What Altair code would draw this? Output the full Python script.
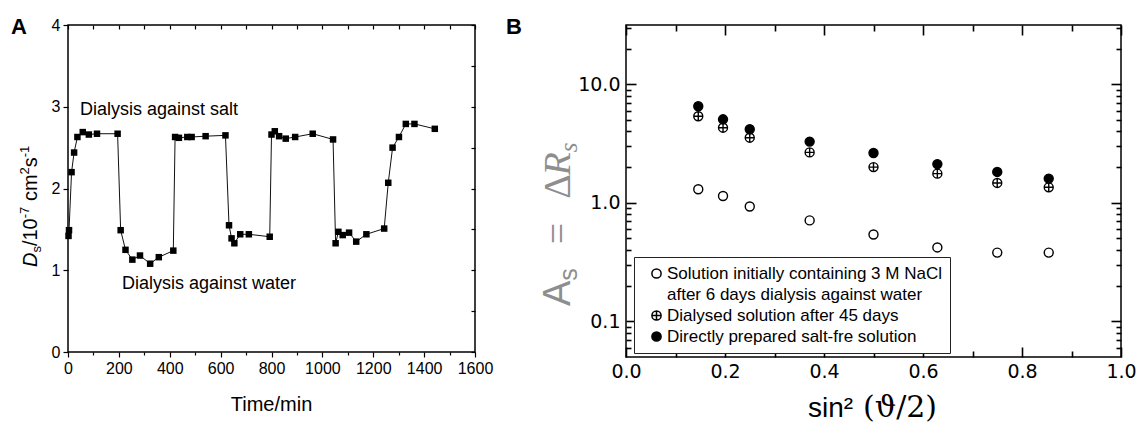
import altair as alt
import pandas as pd

# ---------------- Panel A data ----------------
time_min = [2, 4, 14, 24, 37, 58, 82, 114, 195,
            207, 226, 253, 283, 323, 357, 414,
            421, 436, 469, 486, 541, 619,
            633, 643, 654, 677, 711, 793,
            800, 813, 830, 856, 893, 962, 1042,
            1052, 1063, 1080, 1105, 1133, 1173, 1243,
            1259, 1276, 1301, 1328, 1362, 1442]
ds_values = [1.42, 1.49, 2.20, 2.44, 2.63, 2.69, 2.66, 2.67, 2.67,
             1.49, 1.25, 1.13, 1.18, 1.08, 1.16, 1.24,
             2.63, 2.62, 2.63, 2.63, 2.64, 2.65,
             1.55, 1.39, 1.33, 1.44, 1.44, 1.41,
             2.66, 2.70, 2.64, 2.61, 2.63, 2.67, 2.60,
             1.33, 1.47, 1.43, 1.46, 1.35, 1.44, 1.51,
             2.07, 2.50, 2.63, 2.79, 2.79, 2.73]
annot_text = ["Dialysis against salt", "Dialysis against water"]
annot_t = [47, 212]
annot_d = [2.96, 0.83]

x_ticks_a = list(range(0, 1601, 100))
y_ticks_a = [i * 0.5 for i in range(9)]

# ---------------- Panel B data ----------------
sin2_theta = [0.146, 0.196, 0.25, 0.371, 0.5, 0.629, 0.75, 0.854]
as_open = [1.30, 1.14, 0.93, 0.71, 0.54, 0.42, 0.38, 0.38]
as_crossed = [5.37, 4.30, 3.54, 2.66, 2.00, 1.76, 1.47, 1.35]
as_filled = [6.52, 5.06, 4.17, 3.28, 2.63, 2.12, 1.82, 1.60]
series_names = [
    "Solution initially containing 3 M NaCl",
    "after 6 days dialysis against water",
    "Dialysed solution after 45 days",
    "Directly prepared salt-fre solution",
]
x_ticks_b = [round(i * 0.1, 1) for i in range(11)]
y_ticks_b = ([round(0.01 * k, 2) for k in range(6, 10)] +
             [round(0.1 * k, 1) for k in range(1, 10)] +
             [float(k) for k in range(1, 10)] + [10.0, 20.0, 30.0])
y_labels_b = [0.1, 1.0, 10.0]

FONT = "Liberation Sans"
WA, HA = 407, 327
WB, HB = 495, 332
GAP = 151
CROSSED = "M-1,0A1,1,0,1,1,1,0A1,1,0,1,1,-1,0ZM-1,0L1,0M0,-1L0,1"

one = pd.DataFrame({"k": [0]})


def txt(text, x, y, size, font=FONT, style="normal", weight="normal",
        angle=0, align="left", baseline="alphabetic", color="black"):
    return alt.Chart(one).mark_text(
        text=text, font=font, fontSize=size, fontStyle=style, fontWeight=weight,
        angle=angle, align=align, baseline=baseline, color=color
    ).encode(x=alt.value(x), y=alt.value(y))


def vertical_title(pieces, y0, x_base, color="black"):
    """pieces: (text, size, font, style, shift, advance, gap_before)"""
    layers = []
    y = y0
    for text, size, font, style, shift, adv, gap in pieces:
        y -= gap
        layers.append(txt(text, x_base + shift, y, size, font=font, style=style,
                          angle=270, align="left", color=color))
        y -= adv
    return layers


# ---------------- Panel A ----------------
dfA = pd.DataFrame({"t": time_min, "D": ds_values, "order": list(range(len(time_min)))})
dfAnn = pd.DataFrame({"label": annot_text, "t": annot_t, "D": annot_d})
sxA = alt.Scale(domain=[0, 1600], nice=False, zero=False)
syA = alt.Scale(domain=[0, 4], nice=False, zero=False)

axA_bottom = alt.Axis(orient="bottom", values=x_ticks_a, format="d",
                      labelExpr="datum.value % 200 === 0 ? datum.label : ''",
                      tickSize={"condition": {"test": "datum.value % 200 === 0", "value": 5}, "value": 3},
                      labelFont=FONT, labelFontSize=16, labelPadding=3, labelFlush=False,
                      labelOverlap=False, title=None, domain=False, grid=False,
                      tickColor="black", tickWidth=1.2, labelColor="black")
axA_left = alt.Axis(orient="left", values=y_ticks_a, format="d",
                    labelExpr="datum.value % 1 === 0 ? datum.label : ''",
                    tickSize={"condition": {"test": "datum.value % 1 === 0", "value": 5}, "value": 3},
                    labelFont=FONT, labelFontSize=16, labelPadding=3, labelFlush=False,
                    labelOverlap=False, title=None, domain=False, grid=False,
                    tickColor="black", tickWidth=1.2, labelColor="black")
axA_top = alt.Axis(orient="bottom", offset=-HA, values=x_ticks_a, labels=False, tickSize=4,
                   title=None, domain=False, grid=False, tickColor="black", tickWidth=1.2)
axA_right = alt.Axis(orient="left", offset=-WA, values=y_ticks_a, labels=False, tickSize=4,
                     title=None, domain=False, grid=False, tickColor="black", tickWidth=1.2)

lineA = alt.Chart(dfA).mark_line(color="#111111", strokeWidth=1).encode(
    x=alt.X("t:Q", scale=sxA, axis=axA_bottom),
    y=alt.Y("D:Q", scale=syA, axis=axA_left),
    order="order:Q")
ptsA = alt.Chart(dfA).mark_point(shape="square", filled=True, size=42, color="black", opacity=1).encode(
    x=alt.X("t:Q", scale=sxA, axis=None),
    y=alt.Y("D:Q", scale=syA, axis=None))
invA = alt.Chart(dfA).mark_point(opacity=0).encode(
    x=alt.X("t:Q", scale=sxA, axis=axA_top),
    y=alt.Y("D:Q", scale=syA, axis=axA_right))
annA = alt.Chart(dfAnn).mark_text(font=FONT, fontSize=18, align="left", baseline="middle",
                                  color="black").encode(
    x=alt.X("t:Q", scale=sxA, axis=None),
    y=alt.Y("D:Q", scale=syA, axis=None),
    text="label:N")

ytitleA = vertical_title([
    ("D", 20, FONT, "italic", 0, 14.4, 0),
    ("s", 13, FONT, "normal", 4, 6.5, 0),
    ("/10", 20, FONT, "normal", 0, 27.8, 0),
    ("-7", 13, FONT, "normal", -8, 11.6, 0),
    ("cm", 20, FONT, "normal", 0, 26.6, 5.6),
    ("2", 13, FONT, "normal", -8, 7.2, 0),
    ("s", 20, FONT, "normal", 0, 10.0, 0),
    ("-1", 13, FONT, "normal", -8, 11.6, 0),
], y0=242, x_base=-31)

panelA = alt.layer(
    lineA, ptsA, invA, annA,
    txt("Time/min", WA / 2, 386, 20, align="center"),
    txt("A", -57, 9, 22, weight="bold"),
    *ytitleA
).resolve_axis(x="independent", y="independent").properties(width=WA, height=HA)

# ---------------- Panel B ----------------
rows = []
for name, vals in [(series_names[0], as_open), (series_names[2], as_crossed), (series_names[3], as_filled)]:
    for xv, v in zip(sin2_theta, vals):
        rows.append({"series": name, "x": xv, "v": v})
dfB = pd.DataFrame(rows)

sxB = alt.Scale(domain=[0, 1], nice=False, zero=False)
syB = alt.Scale(type="log", domain=[0.05, 31.6], nice=False)

major_x_b = "round(datum.value * 10) % 2 === 0"
major_y_b = "abs(log(datum.value) / LN10 - round(log(datum.value) / LN10)) < 0.000001"

axB_bottom = alt.Axis(orient="bottom", values=[0, 0.2, 0.4, 0.6, 0.8, 1.0], format=".1f",
                      ticks=False, tickSize=0, labelFont="DejaVu Sans", labelFontSize=19,
                      labelPadding=5, labelFlush=False, labelOverlap=False, title=None,
                      domain=False, grid=False, labelColor="black")
axB_left = alt.Axis(orient="left", values=y_labels_b, format=".1f",
                    ticks=False, tickSize=0, labelFont="DejaVu Sans", labelFontSize=19,
                    labelPadding=6, labelFlush=False, labelOverlap=False, title=None,
                    domain=False, grid=False, labelColor="black")
tick_cond_x = {"condition": {"test": major_x_b, "value": 10}, "value": 6}
tick_cond_y = {"condition": {"test": major_y_b, "value": 10}, "value": 5}
axB_in_bottom = alt.Axis(orient="top", offset=-HB, values=x_ticks_b, labels=False,
                         tickSize=tick_cond_x, title=None, domain=False, grid=False,
                         tickColor="black", tickWidth=1.6)
axB_in_left = alt.Axis(orient="right", offset=-WB, values=y_ticks_b, labels=False,
                       tickSize=tick_cond_y, title=None, domain=False, grid=False,
                       tickColor="black", tickWidth=1.6)
axB_in_top = alt.Axis(orient="bottom", offset=-HB, values=x_ticks_b, labels=False,
                      tickSize=tick_cond_x, title=None, domain=False, grid=False,
                      tickColor="black", tickWidth=1.6)
axB_in_right = alt.Axis(orient="left", offset=-WB, values=y_ticks_b, labels=False,
                        tickSize=tick_cond_y, title=None, domain=False, grid=False,
                        tickColor="black", tickWidth=1.6)

# the legend is laid out in the concat's frame (origin = panel A's plot corner)
legB = alt.Legend(title=None, orient="none", legendX=WA + GAP + 8, legendY=232,
                  direction="vertical",
                  labelFont=FONT, labelFontSize=17, labelColor="black", labelLimit=600,
                  padding=8, rowPadding=3, symbolOffset=6, labelOffset=2,
                  symbolSize=85, symbolStrokeWidth=1.5, strokeColor="#222222",
                  fillColor="white")

ptsB = alt.Chart(dfB).mark_point(size=81, strokeWidth=1.4, opacity=1).encode(
    x=alt.X("x:Q", scale=sxB, axis=axB_bottom),
    y=alt.Y("v:Q", scale=syB, axis=axB_left),
    shape=alt.Shape("series:N", scale=alt.Scale(domain=series_names,
                    range=["circle", "circle", CROSSED, "circle"]), legend=legB),
    fill=alt.Fill("series:N", scale=alt.Scale(domain=series_names,
                  range=["transparent", "transparent", "transparent", "black"]), legend=legB),
    stroke=alt.Stroke("series:N", scale=alt.Scale(domain=series_names,
                      range=["black", "transparent", "black", "black"]), legend=legB),
)
invB1 = alt.Chart(dfB).mark_point(opacity=0).encode(
    x=alt.X("x:Q", scale=sxB, axis=axB_in_bottom),
    y=alt.Y("v:Q", scale=syB, axis=axB_in_left))
invB2 = alt.Chart(dfB).mark_point(opacity=0).encode(
    x=alt.X("x:Q", scale=sxB, axis=axB_in_top),
    y=alt.Y("v:Q", scale=syB, axis=axB_in_right))

GRAY = "#8e8e8e"
ytitleB = vertical_title([
    ("A", 38, FONT, "normal", 0, 25.3, 0),
    ("s", 25, FONT, "normal", 7, 12.5, 0),
    ("=", 38, "Liberation Serif", "normal", 0, 21.4, 24),
    ("Δ", 38, "Liberation Serif", "normal", 0, 23.3, 24),
    ("R", 38, "Liberation Serif", "italic", 0, 23.2, 0),
    ("s", 25, "Liberation Serif", "italic", 7, 9.7, 0),
], y0=281, x_base=-56, color=GRAY)

panelB = alt.layer(
    ptsB, invB1, invB2,
    txt("sin²", 182, 392, 28),
    txt("(ϑ/2)", 237, 392, 30, font="DejaVu Serif"),
    txt("B", -120, 9, 22, weight="bold"),
    *ytitleB
).resolve_axis(x="independent", y="independent").properties(width=WB, height=HB)

chart = alt.hconcat(panelA, panelB, spacing=GAP, bounds="flush").properties(
    padding={"left": 10, "top": 15, "right": 2, "bottom": 0},
    background="white",
).configure_view(stroke="black", strokeWidth=1.5).configure_axis(domain=False, grid=False)

chart.save("out.html", embed_options={"renderer": "svg", "actions": False})
